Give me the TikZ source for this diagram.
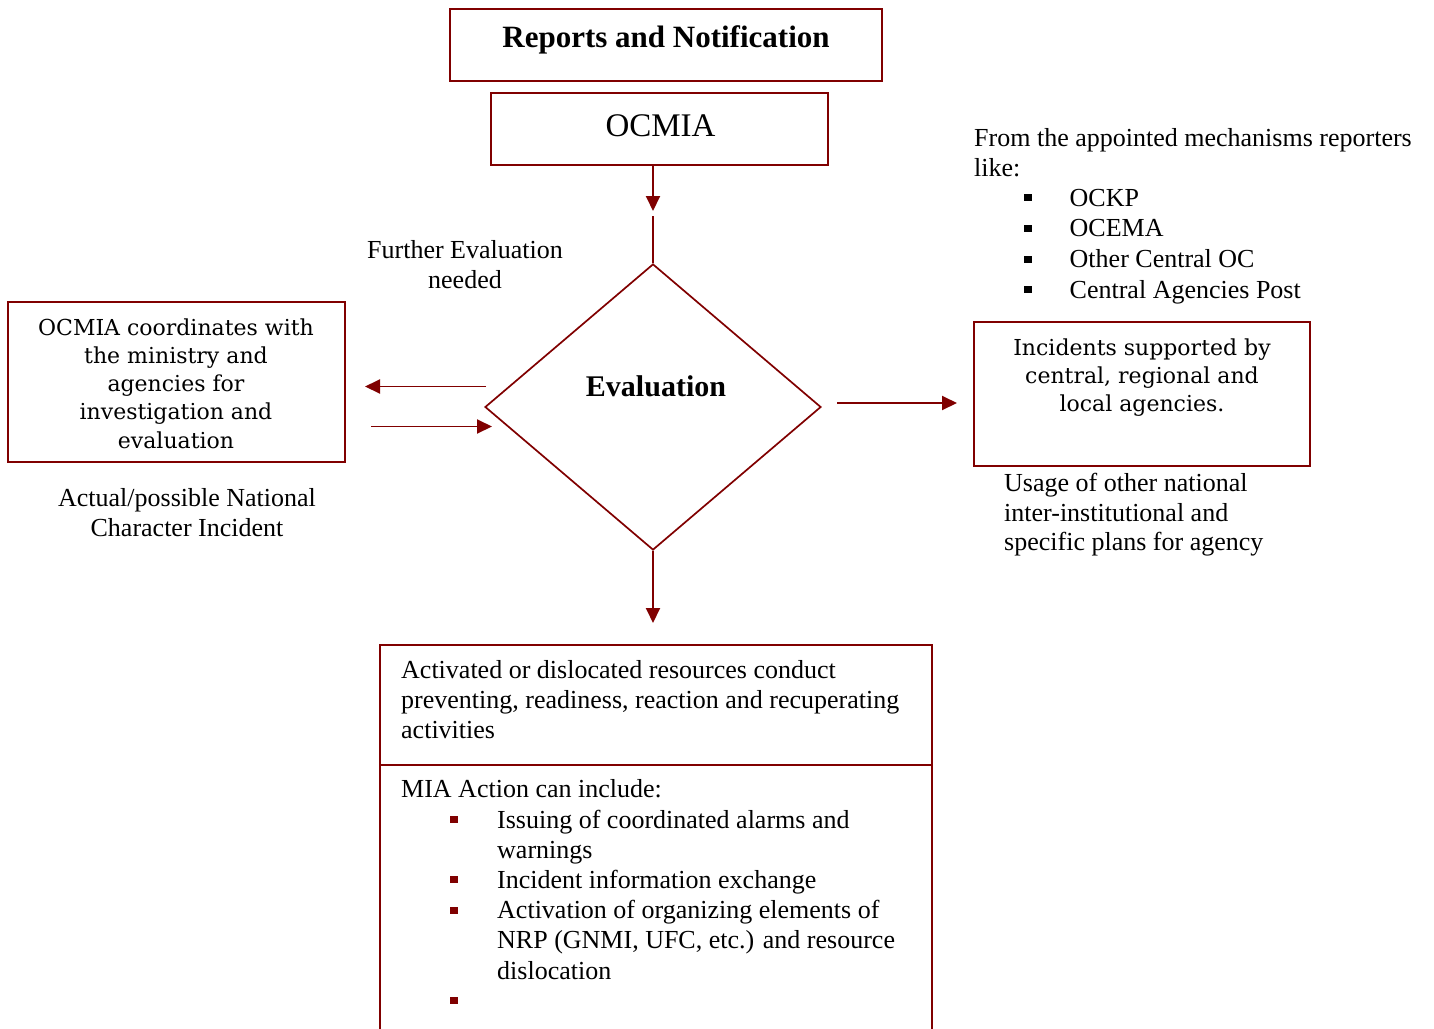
\documentclass[tikz,border=0pt]{standalone}
\usepackage{fontspec}
\setmainfont{Liberation Serif}
\newfontfamily\wideserif{DejaVu Serif}
\usetikzlibrary{arrows.meta,shapes.geometric}
\definecolor{framered}{RGB}{128,0,0}
% small square list bullet
\newcommand\sqbul{\rule[5pt]{7.5pt}{7pt}}

\begin{document}
\begin{tikzpicture}[x=1pt,y=-1pt,
  box/.style={draw=framered, line width=2.2pt, inner sep=0pt, outer sep=0pt},
  conn/.style={draw=framered, line width=1.9pt},
  arr/.style={conn, -{Triangle[length=15pt,width=14pt]}},
  gtext/.style={inner sep=0pt, font=\fontsize{26}{30.2}\selectfont},
  wtext/.style={inner sep=0pt, font=\wideserif\fontsize{22}{28.3}\selectfont},
  btext/.style={inner sep=0pt, font=\bfseries\fontsize{31}{36}\selectfont}]
\useasboundingbox (0,0) rectangle (1434,1028);

% top boxes
\node[box, minimum width=432pt, minimum height=72pt] (rep) at (666,45) {};
\node[btext, anchor=base] (reptxt) at (666,47) {Reports and Notification};
\node[box, minimum width=337pt, minimum height=72pt] (ocmia) at (659.5,129) {};
\node[inner sep=0pt, anchor=base, font=\fontsize{33}{38}\selectfont] (ocmiatxt) at (660.5,136.5) {OCMIA};

% decision
\node[diamond, draw=framered, line width=1.7pt, inner sep=0pt, aspect=1.17,
      minimum width=336pt, minimum height=286pt] (dia) at (653,407) {};
\node[btext, font=\bfseries\fontsize{30}{36}\selectfont, anchor=base] (evtxt) at (656,396) {Evaluation};

\coordinate (d1) at (653,211);
\coordinate (d2) at (653,216);
\coordinate (d3) at (653,623);
\draw[arr] (dia.north |- ocmia.south) -- (d1);
\draw[conn] (dia.north) -- (d2);
\draw[arr] (dia.south) -- (d3);

\node[gtext, anchor=base] (further) at (465,258)
  {\begin{tabular}[t]{@{}c@{}}Further Evaluation\\ needed\end{tabular}};

% left branch
\node[box, minimum width=337pt, minimum height=160pt] (coord) at (176.5,382) {};
\node[wtext, anchor=base] (coordtxt) at (176,335)
  {\begin{tabular}[t]{@{}c@{}}OCMIA coordinates with\\ the ministry and\\ agencies for\\ investigation and\\ evaluation\end{tabular}};
\node[gtext, anchor=base] (actual) at (187,506.5)
  {\begin{tabular}[t]{@{}c@{}}Actual/possible National\\ Character Incident\end{tabular}};
\coordinate (l1) at (486,386.5);
\coordinate (l2) at (365,386.5);
\coordinate (l3) at (371,426.5);
\coordinate (l4) at (492,426.5);
\draw[arr] (l1) -- (l2);
\draw[arr] (l3) -- (l4);

% right branch
\coordinate (r1) at (837,403);
\coordinate (r2) at (957,403);
\draw[arr] (r1) -- (r2);
\node[gtext, anchor=base west] (from) at (974,146)
  {\begin{tabular}[t]{@{}l@{}}From the appointed mechanisms reporters\\ like:\end{tabular}};
\node[gtext, anchor=base west, font=\fontsize{26}{30.8}\selectfont] (mechs) at (1024,206)
  {\begin{tabular}[t]{@{}l@{}l@{}}
   \makebox[45.5pt][l]{\sqbul} & OCKP\\
   \makebox[45.5pt][l]{\sqbul} & OCEMA\\
   \makebox[45.5pt][l]{\sqbul} & Other Central OC\\
   \makebox[45.5pt][l]{\sqbul} & Central Agencies Post
   \end{tabular}};
\node[box, minimum width=336pt, minimum height=144pt] (inc) at (1142,394) {};
\node[wtext, anchor=base] (inctxt) at (1142,355)
  {\begin{tabular}[t]{@{}c@{}}Incidents supported by\\ central, regional and\\ local agencies.\end{tabular}};
\node[gtext, anchor=base west, font=\fontsize{26}{29.5}\selectfont] (usage) at (1004,491.7)
  {\begin{tabular}[t]{@{}l@{}}Usage of other national\\ inter-institutional and\\ specific plans for agency\end{tabular}};

% bottom boxes
\node[box, anchor=north west, minimum width=552pt, minimum height=120pt] (act) at (380,645) {};
\node[box, anchor=north west, minimum width=552pt, minimum height=290pt] (mia) at (380,765) {};
\node[gtext, anchor=base west] (acttxt) at (401,678)
  {\begin{tabular}[t]{@{}l@{}}Activated or dislocated resources conduct\\ preventing, readiness, reaction and recuperating\\ activities\end{tabular}};
\node[gtext, anchor=base west] (miatxt) at (401,797)
  {MIA Action can include:};
\node[gtext, anchor=base west] (mialist) at (450,828)
  {\begin{tabular}[t]{@{}l@{}l@{}}
   \makebox[47pt][l]{\color{framered}\sqbul} & Issuing of coordinated alarms and\\
   & warnings\\
   \makebox[47pt][l]{\color{framered}\sqbul} & Incident information exchange\\
   \makebox[47pt][l]{\color{framered}\sqbul} & Activation of organizing elements of\\
   & NRP (GNMI, UFC, etc.) and resource\\
   & dislocation\\
   \makebox[47pt][l]{\color{framered}\sqbul} &
   \end{tabular}};
\end{tikzpicture}
\end{document}
